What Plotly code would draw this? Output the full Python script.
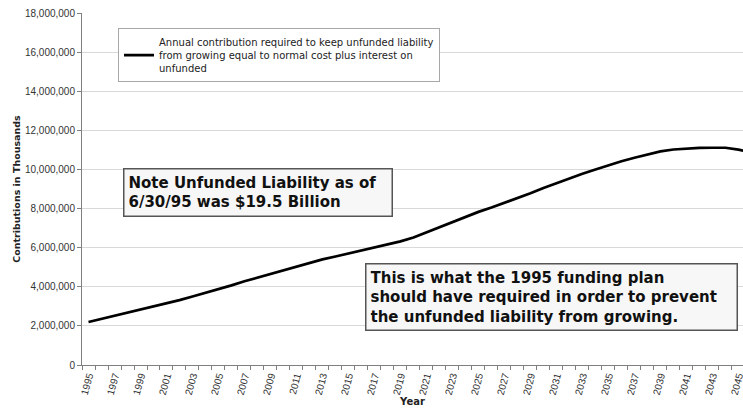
import plotly.graph_objects as go

# Annual contribution (thousands), 1995-2046
years = list(range(1995, 2047))
contribution = [
    2200000, 2360000, 2500000, 2660000, 2820000, 2990000, 3150000, 3320000,
    3500000, 3680000, 3870000, 4070000, 4280000, 4470000, 4660000, 4860000,
    5060000, 5240000, 5400000, 5550000, 5700000, 5850000, 6000000, 6150000,
    6320000, 6520000, 6780000, 7050000, 7320000, 7580000, 7830000, 8050000,
    8280000, 8520000, 8780000, 9050000, 9300000, 9550000, 9780000, 10000000,
    10220000, 10420000, 10600000, 10770000, 10920000, 11020000, 11070000,
    11100000, 11110000, 11110000, 11010000, 10880000,
]
series_name = ("Annual contribution required to keep unfunded liability<br>"
               "from growing equal to normal cost plus interest on<br>unfunded")
year_labels = list(range(1995, 2047, 2))
y_ticks = list(range(0, 18000001, 2000000))

note_text = "Note Unfunded Liability as of<br>6/30/95 was $19.5 Billion"
plan_text = ("This is what the 1995 funding plan<br>"
             "should have required in order to prevent<br>"
             "the unfunded liability from growing.")

VERDANA = "Verdana, DejaVu Sans, sans-serif"
ARIAL = "Arial, Liberation Sans, sans-serif"

fig = go.Figure()
fig.add_trace(go.Scatter(
    x=years, y=contribution, mode="lines", name=series_name,
    line=dict(color="#000000", width=2.7), showlegend=True,
))

fig.update_layout(
    width=743, height=414,
    margin=dict(l=82, r=0, t=13, b=49),
    paper_bgcolor="white", plot_bgcolor="white",
    showlegend=True,
    legend=dict(
        x=0.0545, y=0.957, xanchor="left", yanchor="top",
        bgcolor="white", bordercolor="#a8a8a8", borderwidth=1,
        font=dict(family=VERDANA, size=10, color="#222222"),
        itemwidth=30,
    ),
    xaxis=dict(
        range=[1994.5, 2045.35], tickvals=year_labels,
        ticktext=[str(y) for y in year_labels],
        tickangle=-75, ticks="", showgrid=False, zeroline=False,
        showline=True, linecolor="#808080", linewidth=1, automargin=False,
        ticklabeloverflow="allow",
        tickfont=dict(family=ARIAL, size=10, color="#333333"),
        minor=dict(tickvals=[y - 0.5 for y in years], ticks="outside",
                   ticklen=4, tickcolor="#808080", showgrid=False),
        title=dict(text="<b>Year</b>", standoff=0,
                   font=dict(family=VERDANA, size=10, color="#222222")),
    ),
    yaxis=dict(
        range=[0, 18000000], tickvals=y_ticks,
        ticktext=[f"{v:,}" for v in y_ticks],
        ticks="outside", ticklen=4, tickcolor="#808080",
        showgrid=True, gridcolor="#d9d9d9", gridwidth=1, zeroline=False,
        showline=True, linecolor="#808080", linewidth=1, automargin=False,
        tickfont=dict(family=ARIAL, size=10, color="#333333"),
        title=dict(text="<b>Contributions in Thousands</b>", standoff=2,
                   font=dict(family=VERDANA, size=9.5, color="#222222")),
    ),
)

box_font = dict(family=VERDANA, size=15, color="#111111")
fig.add_annotation(
    xref="paper", yref="paper", x=0.062, y=0.5597,
    xanchor="left", yanchor="top", text="<b>" + note_text + "</b>",
    showarrow=False, align="left", font=box_font, width=259,
    bgcolor="#f7f7f7", bordercolor="#555555", borderwidth=1.5, borderpad=4,
)
fig.add_annotation(
    xref="paper", yref="paper", x=0.428, y=0.2898,
    xanchor="left", yanchor="top", text="<b>" + plan_text + "</b>",
    showarrow=False, align="left", font=box_font, width=362,
    bgcolor="#f7f7f7", bordercolor="#555555", borderwidth=1.5, borderpad=4,
)

# the page body has a default 8px margin; drop it so the figure sits at 0,0
fig.write_html("out.html", config={"displayModeBar": False},
               post_script="document.body.style.margin='0';")
